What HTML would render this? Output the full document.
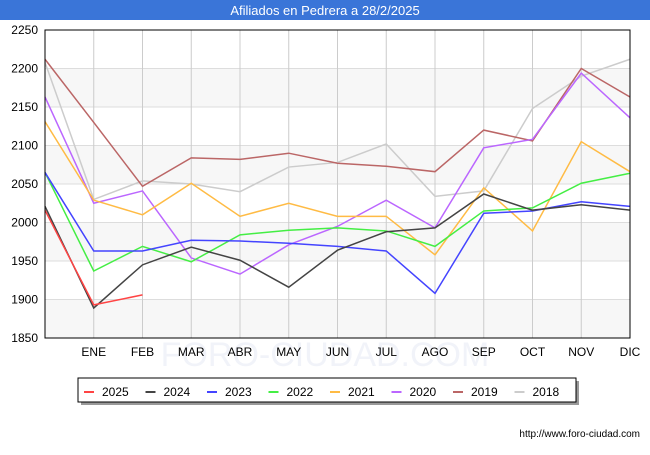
<!DOCTYPE html>
<html><head><meta charset="utf-8"><style>
body{margin:0;background:#fff;font-family:"Liberation Sans","DejaVu Sans",sans-serif}
</style></head><body>
<svg width="650" height="450" xmlns="http://www.w3.org/2000/svg" font-family="Liberation Sans, DejaVu Sans, sans-serif">
<rect x="0" y="0" width="650" height="20" fill="#3a75d8"/>
<text x="325" y="15" text-anchor="middle" fill="#fff" font-size="13">Afiliados en Pedrera a 28/2/2025</text>
<g id="bands"></g><g id="grid"></g>
<text x="325" y="366" text-anchor="middle" font-size="34" fill="#f1f3f9">FORO-CIUDAD.COM</text>
<g id="series"></g>
<rect x="45" y="30" width="585" height="308" fill="none" stroke="#000"/>
<g id="yaxis" font-size="12" fill="#000"></g><g id="xaxis" font-size="12" fill="#000"></g>
<rect x="81" y="381" width="498" height="24" fill="#999"/>
<rect x="78" y="378" width="498" height="24" fill="#fff" stroke="#000"/>
<g id="legend" font-size="12"></g>
<text x="640" y="437" text-anchor="end" font-size="10">http://www.foro-ciudad.com</text>
</svg>
<script>
const months=["","ENE","FEB","MAR","ABR","MAY","JUN","JUL","AGO","SEP","OCT","NOV","DIC"];
const yTicks=[1850,1900,1950,2000,2050,2100,2150,2200,2250];
const seriesNames=["2025","2024","2023","2022","2021","2020","2019","2018"];
const seriesColors=["#ff4444","#444444","#4444ff","#44ee44","#ffbb44","#bb66ff","#bb6666","#cccccc"];
const s2025=[2016,1893,1906];
const s2024=[2021,1889,1945,1968,1951,1916,1964,1988,1993,2037,2016,2023,2016];
const s2023=[2065,1963,1963,1977,1976,1973,1969,1963,1908,2012,2015,2027,2021];
const s2022=[2065,1937,1969,1949,1984,1990,1993,1989,1969,2015,2019,2051,2064];
const s2021=[2131,2029,2010,2051,2008,2025,2008,2008,1958,2045,1989,2105,2066];
const s2020=[2163,2025,2041,1954,1933,1971,1995,2029,1993,2097,2108,2194,2136];
const s2019=[2212,2130,2047,2084,2082,2090,2077,2073,2066,2120,2106,2200,2163];
const s2018=[2208,2030,2054,2050,2040,2072,2078,2102,2034,2041,2148,2190,2212];
const allSeries=[s2025,s2024,s2023,s2022,s2021,s2020,s2019,s2018];
const NS="http://www.w3.org/2000/svg";
const X=i=>45+i*48.75, Y=v=>338-(v-1850)*0.77;
function mk(t,a,p){const e=document.createElementNS(NS,t);for(const k in a)e.setAttribute(k,a[k]);p.appendChild(e);return e;}
const bands=document.getElementById('bands'),grid=document.getElementById('grid'),ya=document.getElementById('yaxis'),xa=document.getElementById('xaxis');
for(let i=0;i<yTicks.length-1;i+=2){const r=mk('rect',{x:45,y:Y(yTicks[i+1]),width:585,height:Y(yTicks[i])-Y(yTicks[i+1]),fill:'#f7f7f7'},bands);

}
yTicks.forEach(v=>{const l=mk('line',{x1:45,x2:630,y1:Y(v),y2:Y(v),stroke:'#ddd'},grid);


const t=mk('text',{x:38,y:Y(v)+4,'text-anchor':'end'},ya);t.textContent=v;

});
months.forEach((m,i)=>{if(i===0)return;const l=mk('line',{x1:X(i),x2:X(i),y1:30,y2:338,stroke:'#ccc'},grid);


const t=mk('text',{x:X(i),y:356,'text-anchor':'middle'},xa);t.textContent=m;

});
const sg=document.getElementById('series');
for(let k=allSeries.length-1;k>=0;k--){const pts=allSeries[k].map((v,i)=>X(i)+','+Y(v)).join(' ');
const p=mk('polyline',{points:pts,fill:'none',stroke:seriesColors[k],'stroke-width':1.5},sg);

}
const lg=document.getElementById('legend');
seriesNames.forEach((n,k)=>{const x0=84+k*61.5;
const l=mk('line',{x1:x0,x2:x0+10,y1:392,y2:392,stroke:seriesColors[k],'stroke-width':2},lg);


const t=mk('text',{x:x0+18,y:396},lg);t.textContent=n;

});
</script>
</body></html>
